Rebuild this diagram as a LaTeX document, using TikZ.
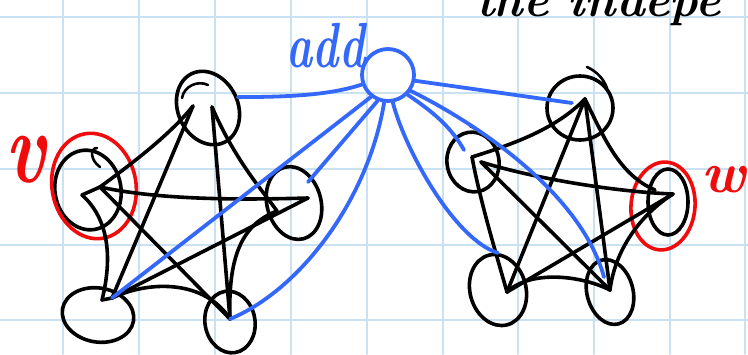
\documentclass[tikz,border=0pt]{standalone}
\usetikzlibrary{shapes.geometric}
\definecolor{gridc}{RGB}{200,226,244}
\definecolor{penblue}{RGB}{52,104,250}
\definecolor{penred}{RGB}{240,12,12}
\begin{document}
\begin{tikzpicture}[x=1pt,y=-1pt, line cap=round, line join=round,
  loopnode/.style={draw=black, ellipse, line width=3.6pt, inner sep=0pt},
  redloop/.style={draw=penred, ellipse, line width=3.6pt, inner sep=0pt},
  kedge/.style={draw=black, line width=3.6pt},
  thin/.style={draw=black, line width=2.6pt},
  bedge/.style={draw=penblue, line width=3.8pt},
  gridline/.style={draw=gridc, line width=2pt},
  hand/.style={inner sep=0pt}]
\useasboundingbox (0,0) rectangle (748,354);
\clip (0,0) rectangle (748,354);
\fill[white] (0,0) rectangle (748,354);
% grid paper
\foreach \gx in {63,139,215,291,367,443,518,594,670,745}
  \draw[gridline] (\gx,0) -- (\gx,354);
\foreach \gy in {17,93,169,245,320}
  \draw[gridline] (0,\gy) -- (748,\gy);

% top text (cut off by the page edge, as in the reference)
\node[hand, anchor=base west, font=\fontsize{48}{48}\selectfont\bfseries\itshape] (toptext) at (476,16) {the\hspace{0.4em}indepe};

% ---------------- left K5 ----------------
\node[loopnode, minimum width=60pt, minimum height=76pt, rotate=25] (LT) at (208,108) {};
\node[loopnode, minimum width=66pt, minimum height=80pt, rotate=10] (LL) at (88,190) {};
\node[redloop, minimum width=84pt, minimum height=106pt, rotate=10] (LLred) at (94,186) {};
\node[loopnode, minimum width=54pt, minimum height=74pt, rotate=15] (LR) at (294,203) {};
\node[loopnode, minimum width=72pt, minimum height=54pt, rotate=-10] (LBL) at (98,315) {};
\node[loopnode, minimum width=50pt, minimum height=62pt, rotate=10] (LBR) at (230,322) {};

\coordinate (lt1) at (193,106);
\coordinate (lt2) at (212,107);
\coordinate (ll1) at (82,195);
\coordinate (ll2) at (100,187);
\coordinate (lr1) at (308,198);
\coordinate (lr2) at (277,211);
\coordinate (lbl1) at (102,300);
\coordinate (lbl2) at (112,298);
\coordinate (lbr) at (230,319);

\draw[kedge] (lt1) .. controls (170,135) and (130,165) .. (ll2);
\draw[kedge] (ll2) -- (ll1);
\draw[kedge] (lt1) -- (lbl2);
\draw[kedge] (lt2) -- (lbr);
\draw[kedge] (lt2) .. controls (235,160) and (262,190) .. (lr2);
\draw[kedge] (ll2) .. controls (160,200) and (240,200) .. (lr1);
\draw[kedge] (ll1) .. controls (110,220) and (112,260) .. (lbl1);
\draw[kedge] (ll2) -- (lbr);
\draw[kedge] (lr1) -- (lbl2);
\draw[kedge] (lr2) .. controls (240,225) and (228,260) .. (lbr);
\draw[kedge] (lbl2) .. controls (150,280) and (205,280) .. (lbr);
\draw[kedge] (lbl1) -- (lbl2);
% extra pen strokes
\draw[thin] (182,98) .. controls (184,86) and (198,80) .. (208,85);
\draw[thin] (100,167) .. controls (90,160) and (90,148) .. (97,148);

% ---------------- add vertex ----------------
\node[draw=penblue, circle, line width=3.8pt, minimum size=52pt, inner sep=0pt] (add) at (388,75) {};
\node[hand, text=penblue, font=\fontsize{44}{44}\selectfont\bfseries\itshape] (addlbl) at (326,46) {\scalebox{1}[1.45]{add}};

% ---------------- right K5 ----------------
\node[loopnode, minimum width=66pt, minimum height=64pt] (RT) at (580,108) {};
\node[loopnode, minimum width=52pt, minimum height=60pt, rotate=10] (RL) at (473,162) {};
\node[loopnode, minimum width=40pt, minimum height=66pt] (RR) at (668,202) {};
\node[redloop, minimum width=64pt, minimum height=88pt, rotate=-5] (RRred) at (663,206) {};
\node[loopnode, minimum width=56pt, minimum height=72pt, rotate=15] (RBL) at (498,290) {};
\node[loopnode, minimum width=46pt, minimum height=66pt, rotate=15] (RBR) at (610,292) {};

\coordinate (rt) at (585,99);
\coordinate (rl1) at (472,157);
\coordinate (rl2) at (481,162);
\coordinate (rr) at (673,194);
\coordinate (rr2) at (655,190);
\coordinate (rbl) at (507,292);
\coordinate (rbr) at (610,290);

\draw[kedge] (rt) .. controls (555,130) and (510,145) .. (rl1);
\draw[kedge] (rt) -- (rbl);
\draw[kedge] (rt) -- (rbr);
\draw[kedge] (rt) .. controls (605,140) and (620,175) .. (rr2);
\draw[kedge] (rl2) .. controls (540,180) and (620,192) .. (rr);
\draw[kedge] (rl1) .. controls (480,200) and (495,250) .. (rbl);
\draw[kedge] (rl2) -- (rbr);
\draw[kedge] (rr) -- (rbl);
\draw[kedge] (rr) .. controls (640,215) and (615,250) .. (rbr);
\draw[kedge] (rbl) .. controls (530,270) and (580,275) .. (rbr);
% extra pen strokes
\draw[thin] (587,67) .. controls (598,72) and (604,80) .. (607,88);
\draw[thin] (470,126) .. controls (478,130) and (485,134) .. (490,140);

% ---------------- blue edges ----------------
\draw[bedge] (add.200) .. controls (330,95) and (290,97) .. (LT.-5);
\draw[bedge] (add.232) -- (lbl2);
\draw[bedge] (add.248) -- (308,182);
\draw[bedge] (add.262) .. controls (368,200) and (300,290) .. (lbr);
\draw[bedge] (add.-12) -- (572,103);
\draw[bedge] (add.-45) .. controls (430,110) and (450,125) .. (464,150);
\draw[bedge] (add.-80) .. controls (405,150) and (455,240) .. (RBL.75);
\draw[bedge] (add.-35) .. controls (470,120) and (580,190) .. (604,277);

% labels
\node[hand, text=penred, font=\fontsize{76}{76}\selectfont\bfseries\itshape] (vlbl) at (26,160) {\scalebox{1}[1.35]{v}};
\node[hand, anchor=west, text=penred, font=\fontsize{58}{58}\selectfont\bfseries\itshape] (wlbl) at (701,180) {w};
\end{tikzpicture}
\end{document}
